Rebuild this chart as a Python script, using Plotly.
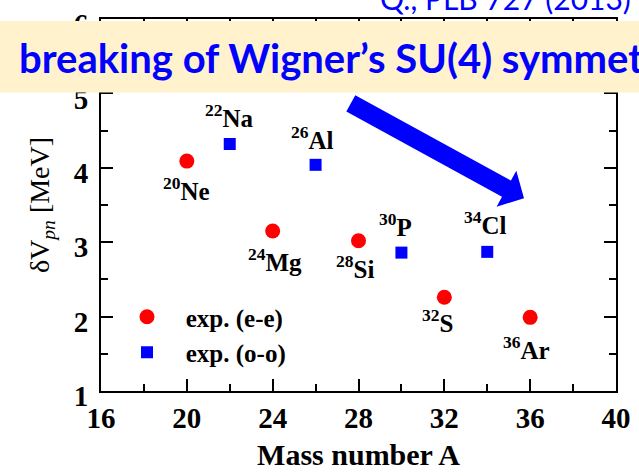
import plotly.graph_objects as go
import math

# ---------------- data ----------------
ee_A = [20, 24, 28, 32, 36]
ee_V = [4.09, 3.15, 3.02, 2.26, 1.99]
ee_names = ["<sup>20</sup>Ne", "<sup>24</sup>Mg", "<sup>28</sup>Si", "<sup>32</sup>S", "<sup>36</sup>Ar"]

oo_A = [22, 26, 30, 34]
oo_V = [4.32, 4.04, 2.86, 2.87]
oo_names = ["<sup>22</sup>Na", "<sup>26</sup>Al", "<sup>30</sup>P", "<sup>34</sup>Cl"]

x_ticks = [16, 20, 24, 28, 32, 36, 40]
y_ticks = [1, 2, 3, 4, 5, 6]

# label pixel offsets (style)
ee_off = [(0, -28), (2, -29), (-4, -26), (-7, -24), (-4, -31)]
oo_off = [(0, 28), (-3, 27), (-6, 28), (-2, 29)]

# ---------------- layout geometry ----------------
W, H = 639, 476
ML, MR, MT, MB = 101, 23, 19, 85
X0, X1 = 16, 40
Y0, Y1 = 1, 6
PW, PH = W - ML - MR, H - MT - MB


def px2x(px):
    return X0 + (px - ML) / PW * (X1 - X0)


def py2y(py):
    return Y0 + (H - MB - py) / PH * (Y1 - Y0)


def py2paper(py):
    return (H - MB - py) / PH


def px2paper(px):
    return (px - ML) / PW


SERIF = "Liberation Serif, Times New Roman, serif"
SANS = "Lato, Carlito, sans-serif"
BLUE = "#0000FF"
RED = "#FF0000"

fig = go.Figure()
fig.add_trace(go.Scatter(x=ee_A, y=ee_V, mode="markers", name="\u00a0\u00a0\u00a0<b>exp. (e-e)</b>",
                         marker=dict(symbol="circle", size=15, color=RED, line=dict(width=0))))
fig.add_trace(go.Scatter(x=oo_A, y=oo_V, mode="markers", name="\u00a0\u00a0\u00a0<b>exp. (o-o)</b>",
                         marker=dict(symbol="square", size=12, color=BLUE, line=dict(width=0))))

annotations = []
for xa, ya, nm, (dx, dy) in zip(ee_A + oo_A, ee_V + oo_V, ee_names + oo_names, ee_off + oo_off):
    annotations.append(dict(x=xa, y=ya, text=f"<b>{nm}</b>", showarrow=False, xshift=dx, yshift=dy,
                            font=dict(family=SERIF, size=25, color="black"),
                            xanchor="center", yanchor="middle"))

# ---- arrow (thick block arrow) in pixel geometry -> data coords
tail = (350.8, 103.3)
tip = (524.0, 198.3)
half_w = 9.3
head_len = 20.0
head_half = 20.5
dx_, dy_ = tip[0] - tail[0], tip[1] - tail[1]
L = math.hypot(dx_, dy_)
ux, uy = dx_ / L, dy_ / L
nx, ny = -uy, ux
bx, by = tip[0] - ux * head_len, tip[1] - uy * head_len
pts = [
    (tail[0] - nx * half_w, tail[1] - ny * half_w),
    (bx - nx * half_w, by - ny * half_w),
    (bx - nx * head_half, by - ny * head_half),
    tip,
    (bx + nx * head_half, by + ny * head_half),
    (bx + nx * half_w, by + ny * half_w),
    (tail[0] + nx * half_w, tail[1] + ny * half_w),
]
path = "M " + " L ".join(f"{px2x(p[0]):.4f},{py2y(p[1]):.4f}" for p in pts) + " Z"

shapes = [
    dict(type="path", path=path, xref="x", yref="y", fillcolor=BLUE, line=dict(width=0), layer="above"),
    # banner
    dict(type="rect", xref="paper", yref="paper", x0=px2paper(-5), x1=px2paper(W + 5),
         y0=py2paper(92.5), y1=py2paper(21), fillcolor="#FFF2CC", line=dict(width=0), layer="above"),
]

annotations.append(dict(xref="paper", yref="paper", x=px2paper(17), y=py2paper(58), xanchor="left", yanchor="middle",
                        text="<b>breaking of Wigner’s SU(4) symmetry</b>", showarrow=False,
                        font=dict(family=SANS, size=40, color=BLUE)))
annotations.append(dict(xref="paper", yref="paper", x=px2paper(378), y=py2paper(18), xanchor="left", yanchor="bottom",
                        text="Q., PLB 727 (2013)", showarrow=False,
                        font=dict(family=SANS, size=30, color=BLUE)))

axis_common = dict(showline=True, linecolor="black", linewidth=2, mirror="ticks", ticks="inside",
                   tickcolor="black", tickwidth=2, ticklen=12, showgrid=False, zeroline=False,
                   automargin=False,
                   tickfont=dict(family=SERIF, size=29, color="black"))

fig.update_layout(
    width=W, height=H, margin=dict(l=ML, r=MR, t=MT, b=MB, autoexpand=False),
    paper_bgcolor="white", plot_bgcolor="white",
    showlegend=True,
    legend=dict(x=px2paper(127), y=py2paper(294), xanchor="left", yanchor="top",
                font=dict(family=SERIF, size=25, color="black"), bgcolor="rgba(0,0,0,0)",
                itemsizing="trace", tracegroupgap=0),
    xaxis=dict(range=[X0, X1], tickvals=x_ticks, ticktext=[f"<b>{t}</b>" for t in x_ticks],
               minor=dict(dtick=2, ticks="inside", ticklen=7, tickwidth=2, tickcolor="black"),
               title=dict(text="<b>Mass number A</b>", font=dict(family=SERIF, size=30, color="black"), standoff=11),
               **axis_common),
    yaxis=dict(range=[Y0, Y1], tickvals=y_ticks, ticktext=[f"<b>{t}</b>" for t in y_ticks],
               minor=dict(dtick=0.5, ticks="inside", ticklen=7, tickwidth=2, tickcolor="black"),
               ticklabelstandoff=5, ticklabelshift=5,
               title=dict(text="δV<sub><i>pn</i></sub> [MeV]", font=dict(family=SERIF, size=28, color="black"), standoff=16),
               **axis_common),
    shapes=shapes,
    annotations=annotations,
)

fig.write_html("out.html")
